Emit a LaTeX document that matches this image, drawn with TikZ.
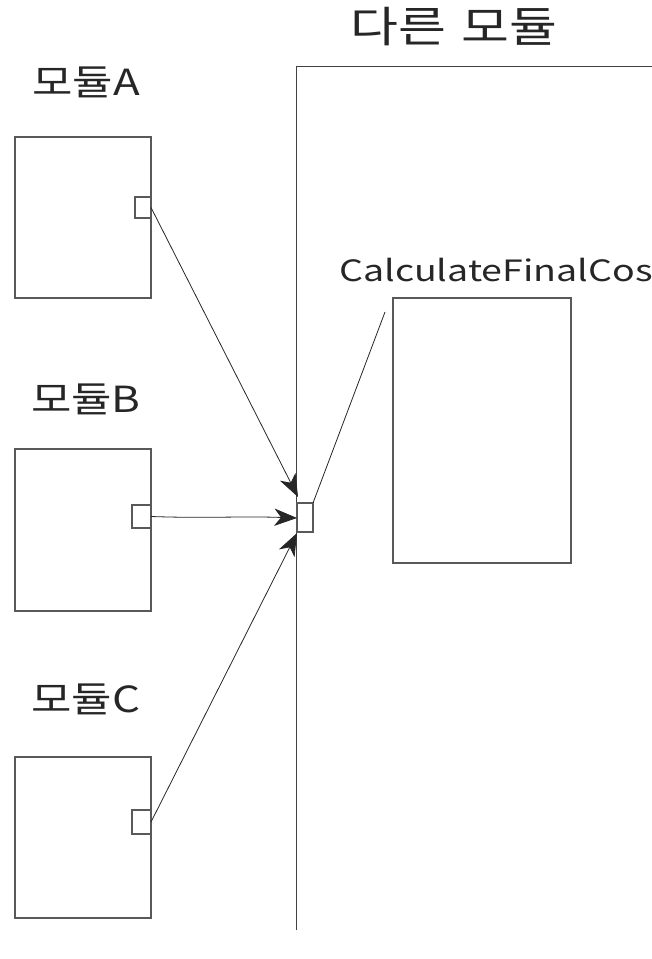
\documentclass[tikz,border=0pt]{standalone}
\usepackage{fontspec}
\setmainfont{Noto Sans CJK KR}
\newfontfamily\labelfont[FakeStretch=1.22]{Noto Sans CJK KR}
\newfontfamily\namefont[FakeStretch=1.28]{Noto Sans CJK KR}
\usetikzlibrary{arrows.meta}
\begin{document}
\begin{tikzpicture}[x=0.75pt,y=-0.75pt,
  box/.style={draw=black!65, line width=0.8pt, inner sep=0pt, outer sep=0pt,
    anchor=north west, fill=white},
  modlabel/.style={font=\labelfont\fontsize{27}{32}\selectfont, text=black!85, inner sep=0pt},
  wire/.style={draw=black!85, line width=0.6pt},
  arr/.style={wire, -{Stealth[length=17pt, width=13pt, inset=5pt]}}]
\useasboundingbox (0,0) rectangle (652,959);

% boundary of the other module
\coordinate (vtop) at (296,66);
\coordinate (vbot) at (296,930);
\coordinate (hend) at (652,66);
\draw[wire, draw=black!75] (vbot) -- (vtop) -- (hend);
\node[modlabel, font=\labelfont\fontsize{32}{38}\selectfont] (otherlbl) at (454,27) {다른\hspace{0.35em}모듈};

% calling modules with their ports
\node[modlabel] (lblA) at (86,82) {모듈A};
\node[box, minimum width={136*0.75pt}, minimum height={161*0.75pt}] (ma) at (15,137) {};
\node[box, minimum width={16*0.75pt}, minimum height={21*0.75pt}] (pa) at (135,197) {};

\node[modlabel] (lblB) at (86,399) {모듈B};
\node[box, minimum width={136*0.75pt}, minimum height={162*0.75pt}] (mb) at (15,449) {};
\node[box, minimum width={19*0.75pt}, minimum height={23*0.75pt}] (pb) at (132,505) {};

\node[modlabel] (lblC) at (86,699) {모듈C};
\node[box, minimum width={136*0.75pt}, minimum height={161*0.75pt}] (mc) at (15,757) {};
\node[box, minimum width={19*0.75pt}, minimum height={24*0.75pt}] (pc) at (132,810) {};

% target function and its entry port
\node[box, minimum width={178*0.75pt}, minimum height={265*0.75pt}] (fn) at (393,298) {};
\node[box, minimum width={16*0.75pt}, minimum height={29*0.75pt}] (tp) at (297,503) {};
\node[modlabel, anchor=west, font=\namefont\fontsize{22}{26}\selectfont] (fnlbl) at (339,270) {CalculateFinalCos};
\coordinate (lead) at (385,312);
\draw[wire] (tp.north east) -- (lead);

% calls into the entry port
\coordinate (tA) at (298,497);
\coordinate (tB) at (297,518);
\coordinate (tC) at (297,533);
\draw[arr] (pa.east) -- (tA);
\draw[arr] (pb.east) to[out=-2, in=178] (tB);
\draw[arr] (pc.east) -- (tC);
\end{tikzpicture}
\end{document}
